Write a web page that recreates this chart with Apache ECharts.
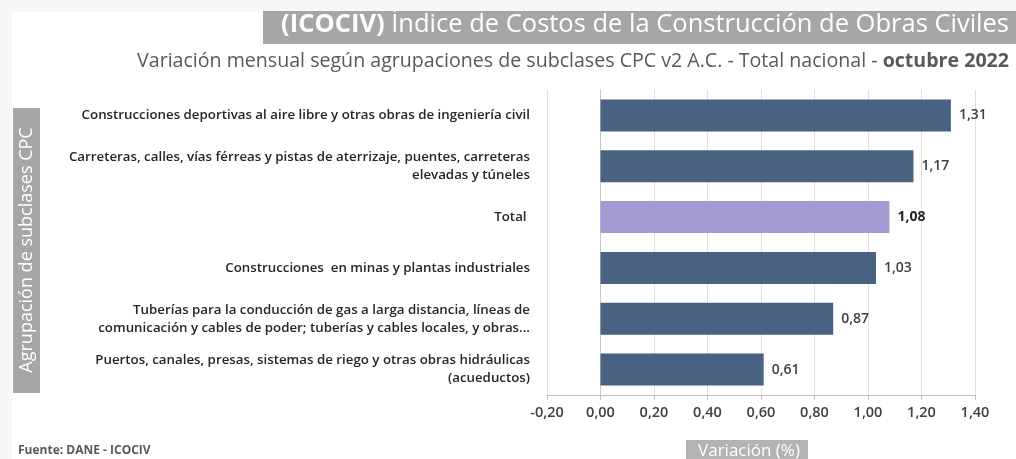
<!DOCTYPE html>
<html>
<head>
<meta charset="utf-8">
<script src="https://cdn.jsdelivr.net/npm/echarts@6/dist/echarts.min.js"></script>
<style>
  html, body { margin: 0; padding: 0; background: #f7f7f7; }
  #chart { width: 1016px; height: 459px; }
</style>
</head>
<body>
<div id="chart"></div>
<script>
  // categorias de arriba hacia abajo (eje category invertido)
  let categories = [
    'Construcciones deportivas al aire libre y otras obras de ingeniería civil',
    'Carreteras, calles, vías férreas y pistas de aterrizaje, puentes, carreteras\nelevadas y túneles',
    'Total ',
    'Construcciones  en minas y plantas industriales',
    'Tuberías para la conducción de gas a larga distancia, líneas de\ncomunicación y cables de poder; tuberías y cables locales, y obras...',
    'Puertos, canales, presas, sistemas de riego y otras obras hidráulicas\n(acueductos)'
  ]
  let values = [1.31, 1.17, 1.08, 1.03, 0.87, 0.61]
  let totalIndex = 2
  let xMin = -0.2
  let xMax = 1.4
  let xStep = 0.2

  let fmt = function (v) { return v.toFixed(2).replace('.', ',') }

  let myChart = echarts.init(document.getElementById('chart'))
  myChart.setOption({
    backgroundColor: '#f7f7f7',
    textStyle: { fontFamily: 'Open Sans' },
    animation: false,
    graphic: [
      { type: 'rect', left: 12, top: 12, shape: { width: 1004, height: 447 }, style: { fill: '#ffffff' }, z: -10 },
      { type: 'rect', left: 263, top: 11, shape: { width: 753, height: 33 }, style: { fill: '#a6a6a6' } },
      {
        type: 'text', right: 7, top: 12,
        style: {
          text: '{b|(ICOCIV)} Índice de Costos de la Construcción de Obras Civiles',
          fill: '#ffffff', font: '25.5px "Open Sans"',
          rich: { b: { fontWeight: 'bold', fontSize: 25.5, fill: '#ffffff', fontFamily: 'Open Sans' } }
        }
      },
      {
        type: 'text', right: 7, top: 51,
        style: {
          text: 'Variación mensual según agrupaciones de subclases CPC v2 A.C. - Total nacional - {b|octubre 2022}',
          fill: '#595959', font: '19.6px "Open Sans"',
          rich: { b: { fontWeight: 'bold', fontSize: 19.6, fill: '#595959', fontFamily: 'Open Sans' } }
        }
      },
      { type: 'rect', left: 13, top: 108, shape: { width: 27, height: 285 }, style: { fill: '#a6a6a6' } },
      {
        type: 'text', x: 27, y: 250, rotation: Math.PI / 2,
        style: {
          text: 'Agrupación de subclases CPC', fill: '#ffffff',
          font: '18px "Open Sans"', align: 'center', verticalAlign: 'middle'
        }
      },
      { type: 'rect', left: 686, top: 440, shape: { width: 122, height: 22 }, style: { fill: '#b3b3b3' } },
      {
        type: 'text', x: 749, y: 451,
        style: {
          text: 'Variación (%)', fill: '#ffffff',
          font: '17px "Open Sans"', align: 'center', verticalAlign: 'middle'
        }
      },
      {
        type: 'text', left: 18, top: 445,
        style: { text: 'Fuente: DANE - ICOCIV', fill: '#595959', font: 'bold 12px "Open Sans"' }
      }
    ],
    grid: { left: 547, right: 41, top: 90, bottom: 64 },
    xAxis: {
      type: 'value',
      min: xMin,
      max: xMax,
      interval: xStep,
      axisLine: { show: true, lineStyle: { color: '#bfbfbf' } },
      axisTick: { show: true, length: 5, lineStyle: { color: '#bfbfbf' } },
      axisLabel: { color: '#404040', fontSize: 14.5, fontWeight: 600, margin: 10, formatter: fmt },
      splitLine: { show: true, lineStyle: { color: '#e0e0e0' } }
    },
    yAxis: {
      type: 'category',
      data: categories,
      inverse: true,
      axisLine: { show: true, onZero: true, lineStyle: { color: '#c8c8c8' } },
      axisTick: { show: false },
      axisLabel: {
        color: '#262626', fontSize: 13.3, fontWeight: 600, margin: 17,
        align: 'right', lineHeight: 18, fontFamily: 'Open Sans'
      }
    },
    series: [{
      type: 'bar',
      barWidth: '63%',
      data: values.map(function (v, i) {
        return {
          value: v,
          itemStyle: { color: i === totalIndex ? '#a29bd1' : '#4a6282' },
          label: i === totalIndex ? { fontWeight: 'bold', color: '#262626' } : {}
        }
      }),
      label: {
        show: true,
        position: 'right',
        distance: 8,
        color: '#404040',
        fontSize: 14,
        fontWeight: 600,
        formatter: function (p) { return fmt(p.value) }
      }
    }]
  })
</script>
</body>
</html>
